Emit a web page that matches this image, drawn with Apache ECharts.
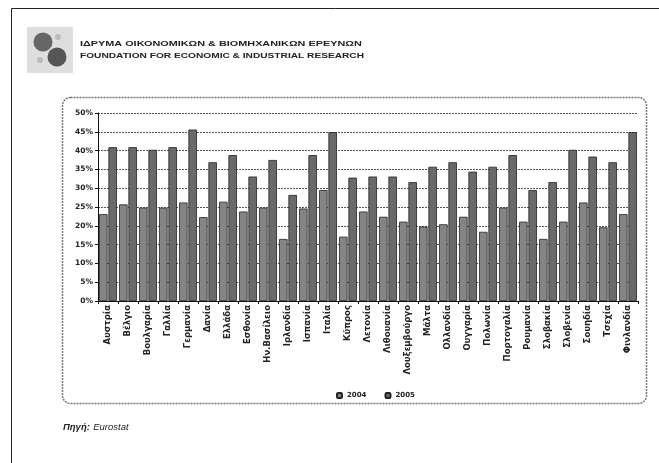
<!DOCTYPE html>
<html><head><meta charset="utf-8">
<script src="https://cdn.jsdelivr.net/npm/echarts@6/dist/echarts.min.js"></script>
<style>html,body{margin:0;padding:0;background:#fff}#c{width:659px;height:463px}</style>
</head><body><div id="c"></div>
<script>
const categories = ["Αυστρία","Βέλγιο","Βουλγαρία","Γαλλία","Γερμανία","Δανία","Ελλάδα","Εσθονία","Ην.Βασίλειο","Ιρλανδία","Ισπανία","Ιταλία","Κύπρος","Λετονία","Λιθουανία","Λουξεμβούργο","Μάλτα","Ολλανδία","Ουγγαρία","Πολωνία","Πορτογαλία","Ρουμανία","Σλοβακία","Σλοβενία","Σουηδία","Τσεχία","Φινλανδία"];
const seriesNames = ["2004","2005"];
const values2004 = [23.1,25.7,24.8,24.8,26.2,22.3,26.4,23.8,24.8,16.5,24.6,29.5,17.1,23.8,22.4,21.1,19.8,20.4,22.4,18.4,24.8,21.1,16.5,21.1,26.2,19.6,23.1];
const values2005 = [40.9,40.9,40.2,40.9,45.6,36.9,38.8,33.1,37.5,28.2,38.8,44.9,32.8,33.1,33.1,31.6,35.7,36.9,34.4,35.7,38.8,29.5,31.6,40.2,38.4,36.9,44.9];
const yTicks = {min:0, max:50, interval:5};
const titleLine1 = "ΙΔΡΥΜΑ ΟΙΚΟΝΟΜΙΚΩΝ & ΒΙΟΜΗΧΑΝΙΚΩΝ ΕΡΕΥΝΩΝ";
const titleLine2 = "FOUNDATION FOR ECONOMIC & INDUSTRIAL RESEARCH";

const chart = echarts.init(document.getElementById('c'), null, {renderer:'canvas'});
const font = 'Arial, "Liberation Sans", sans-serif';
const dfont = '"DejaVu Sans", Arial, sans-serif';
chart.setOption({
  backgroundColor:'#fff',
  animation:false,
  graphic:[
    {type:'line', shape:{x1:11.5,y1:8.5,x2:680,y2:8.5}, style:{stroke:'#222',lineWidth:1}},
    {type:'line', shape:{x1:11.5,y1:8.5,x2:11.5,y2:480}, style:{stroke:'#222',lineWidth:1}},
    {type:'rect', shape:{x:62.5,y:97.5,width:584,height:306,r:8}, style:{fill:'none',stroke:'#777',lineWidth:1.5,lineDash:[2,1]}, z:-1},
    {type:'rect', shape:{x:27,y:27,width:46,height:46}, style:{fill:'#dedede'}},
    {type:'circle', shape:{cx:43,cy:42,r:9.5}, style:{fill:'#666'}},
    {type:'circle', shape:{cx:57,cy:57,r:9.5}, style:{fill:'#555'}},
    {type:'circle', shape:{cx:58,cy:37,r:3}, style:{fill:'#bbb'}},
    {type:'circle', shape:{cx:40,cy:60,r:3}, style:{fill:'#bbb'}},
    {type:'text', x:80, y:41, scaleX:1.55, style:{text:titleLine1, font:'bold 7px '+font, fill:'#222'}},
    {type:'text', x:80, y:53, scaleX:1.45, style:{text:titleLine2, font:'bold 7px '+font, fill:'#222'}},
    {type:'text', left:63, top:421, style:{rich:{a:{font:'italic bold 9.5px '+font, fill:'#222'},b:{font:'italic 9.5px '+font, fill:'#222'}}, text:'{a|Πηγή:} {b|Eurostat}'}}
  ],
  legend:{
    data:seriesNames, left:331, top:387, itemWidth:5, itemHeight:5, itemGap:18,
    textStyle:{fontSize:7, fontWeight:'bold', fontFamily:dfont, color:'#222'}
  },
  grid:{left:98, right:21, top:113, bottom:162, containLabel:false},
  xAxis:{
    type:'category', data:categories,
    axisLine:{lineStyle:{color:'#111'}},
    axisTick:{show:true, length:3, lineStyle:{color:'#111'}},
    axisLabel:{rotate:90, interval:0, fontSize:8.5, fontWeight:'bold', fontFamily:dfont, color:'#222', margin:4}
  },
  yAxis:{
    type:'value', min:yTicks.min, max:yTicks.max, interval:yTicks.interval,
    axisLine:{show:true, lineStyle:{color:'#111'}},
    axisTick:{show:true, length:3},
    axisLabel:{formatter:'{value}%', fontSize:7.5, fontWeight:'bold', fontFamily:dfont, color:'#222', margin:5},
    splitLine:{lineStyle:{color:'#555', type:[2,1]}}
  },
  series:[
    {name:seriesNames[0], type:'bar', data:values2004, barWidth:8.5, barGap:'10%',
     itemStyle:{color:'#858585', borderColor:'#222', borderWidth:0.8}},
    {name:seriesNames[1], type:'bar', data:values2005, barWidth:8.5,
     itemStyle:{color:'#6a6a6a', borderColor:'#222', borderWidth:0.8}}
  ]
});
</script></body></html>
